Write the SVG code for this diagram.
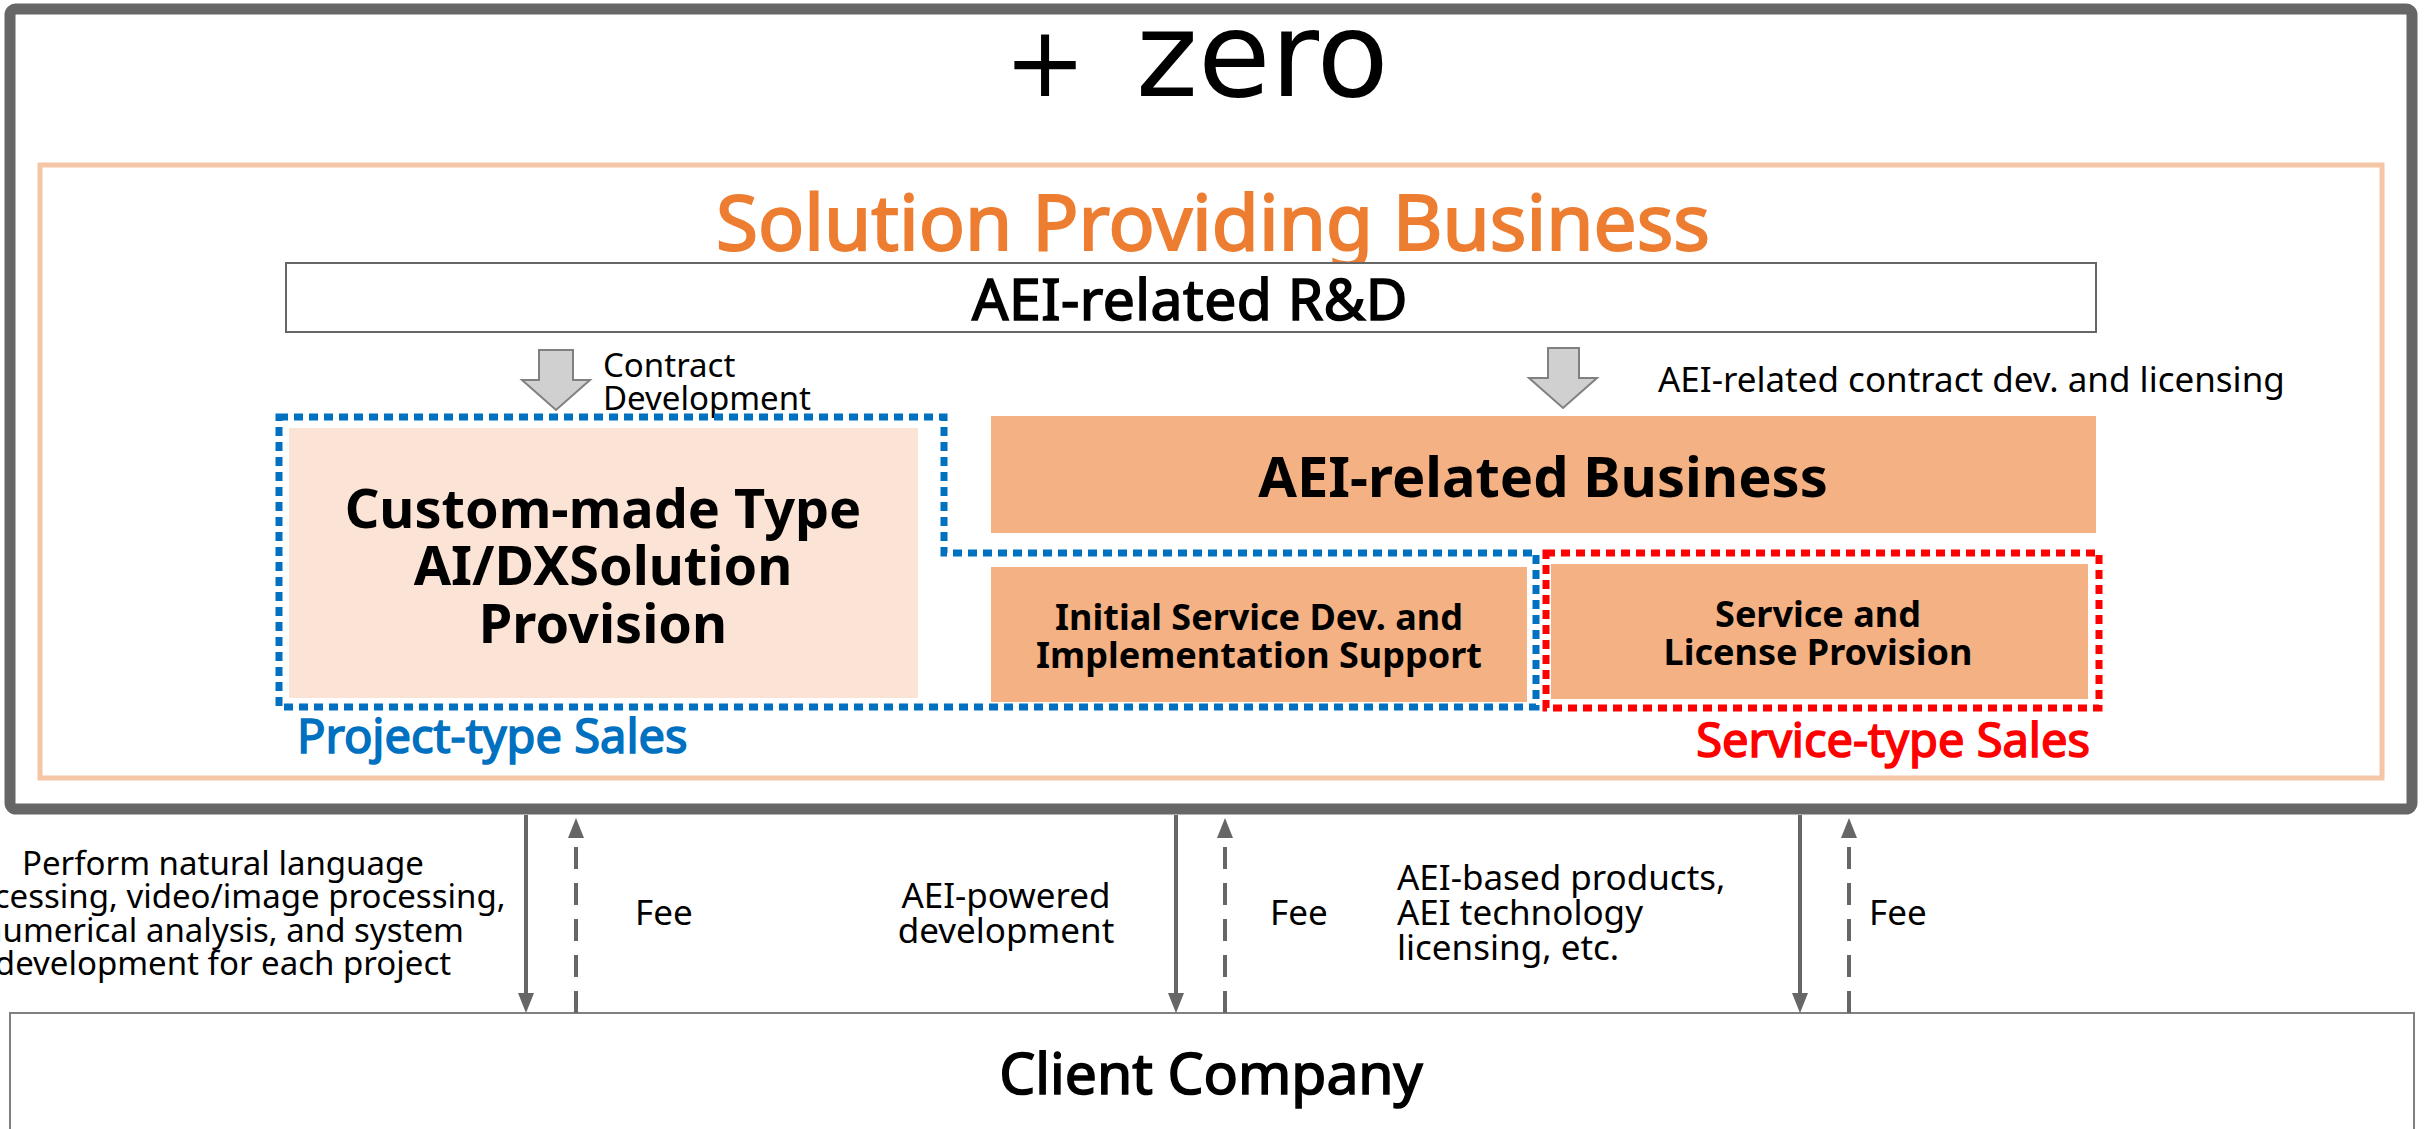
<svg xmlns="http://www.w3.org/2000/svg" width="2427" height="1129" viewBox="0 0 2427 1129">
<style>
text{font-family:"Noto Sans","Noto Sans CJK JP",sans-serif;fill:#000}
.b{font-weight:bold}
.md{stroke:#000;stroke-width:1.6px}
.sm{font-size:35px}
.mid{text-anchor:middle}
.solid{stroke:#666;stroke-width:4;fill:none}
.dash{stroke:#666;stroke-width:4;fill:none;stroke-dasharray:22 14}
.blockarrow{fill:#D0D0D0;stroke:#808080;stroke-width:2}
.dot{fill:none;stroke-width:7;stroke-dasharray:9 6}
</style>
<defs>
<marker id="ah" viewBox="0 0 20 16" refX="12" refY="8" markerWidth="20" markerHeight="16" markerUnits="userSpaceOnUse" orient="auto">
<path d="M0,0 L20,8 L0,16 Z" fill="#666"/>
</marker>
</defs>
<rect width="2427" height="1129" fill="#fff"/>

<g id="client-company">
<rect x="10" y="1013" width="2404" height="140" fill="#fff" stroke="#808080" stroke-width="2"/>
<text x="1211" y="1094" class="mid md" font-size="57">Client Company</text>
</g>

<g id="zero">
<rect x="10" y="9" width="2402" height="800" rx="6" fill="#fff" stroke="#666" stroke-width="11"/>
<text y="96" style="font-family:'DejaVu Sans',sans-serif"><tspan x="1004" font-size="98">+</tspan><tspan x="1136" font-size="118">zero</tspan></text>
</g>

<g id="solution-providing-business">
<rect x="40" y="165" width="2342" height="613" fill="none" stroke="#F5C6A6" stroke-width="5"/>
<text x="1213" y="250" class="mid md" font-size="76.5" style="fill:#ED7D31;stroke:#ED7D31;stroke-width:2px">Solution Providing Business</text>
</g>

<g id="aei-rnd">
<rect x="286" y="263" width="1810" height="69" fill="#fff" stroke="#666" stroke-width="2"/>
<text x="1190" y="320" class="mid md" font-size="57" letter-spacing="0.5">AEI-related R&amp;D</text>
</g>

<g id="arrow-contract">
<polygon class="blockarrow" points="539,350 573,350 573,380 590,380 556,410 522,380 539,380"/>
<text x="603" y="377" font-size="33">Contract</text>
<text x="603" y="410" font-size="33">Development</text>
</g>

<g id="arrow-aei-contract">
<polygon class="blockarrow" points="1548,348 1579,348 1579,378 1597,378 1563,408 1529,378 1548,378"/>
<text x="1658" y="392" class="sm">AEI-related contract dev. and licensing</text>
</g>

<g id="custom-made">
<rect x="289" y="428" width="629" height="270" fill="#FBE3D6"/>
<text x="603" y="528" class="mid b" font-size="54">Custom-made Type</text>
<text x="603" y="585" class="mid b" font-size="54">AI/DXSolution</text>
<text x="603" y="643" class="mid b" font-size="54">Provision</text>
</g>

<g id="aei-business">
<rect x="991" y="416" width="1105" height="117" fill="#F4B183"/>
<text x="1543" y="497" class="mid b" font-size="56">AEI-related Business</text>
</g>

<g id="initial-service">
<rect x="991" y="567" width="536" height="135" fill="#F4B183"/>
<text x="1259" y="630" class="mid b" font-size="36">Initial Service Dev. and</text>
<text x="1259" y="668" class="mid b" font-size="36">Implementation Support</text>
</g>

<g id="service-license">
<rect x="1551" y="564" width="537" height="135" fill="#F4B183"/>
<text x="1818" y="627" class="mid b" font-size="36">Service and</text>
<text x="1818" y="665" class="mid b" font-size="36">License Provision</text>
</g>

<g id="project-type-sales">
<path class="dot" stroke="#0070C0" d="M279,417 H944 V553 H1536 V707 H279 Z"/>
<text x="297" y="753" class="md" font-size="47" style="fill:#0070C0;stroke:#0070C0">Project-type Sales</text>
</g>

<g id="service-type-sales">
<rect class="dot" stroke="#FF0000" x="1546" y="553" width="553" height="155"/>
<text x="2090" y="757" class="md" font-size="47" text-anchor="end" style="fill:#FF0000;stroke:#FF0000">Service-type Sales</text>
</g>

<g id="connectors">
<line class="solid" x1="526" y1="815" x2="526" y2="1005" marker-end="url(#ah)"/>
<line class="dash" x1="576" y1="1013" x2="576" y2="826" marker-end="url(#ah)"/>
<line class="solid" x1="1176" y1="815" x2="1176" y2="1005" marker-end="url(#ah)"/>
<line class="dash" x1="1225" y1="1013" x2="1225" y2="826" marker-end="url(#ah)"/>
<line class="solid" x1="1800" y1="815" x2="1800" y2="1005" marker-end="url(#ah)"/>
<line class="dash" x1="1849" y1="1013" x2="1849" y2="826" marker-end="url(#ah)"/>
</g>

<g id="labels">
<text class="mid" font-size="33" x="223" y="875">Perform natural language</text>
<text class="mid" font-size="33" x="223" y="908">processing, video/image processing,</text>
<text class="mid" font-size="33" x="223" y="942">numerical analysis, and system</text>
<text class="mid" font-size="33" x="223" y="975">development for each project</text>
<text class="sm" x="635" y="925">Fee</text>
<text class="sm mid" x="1006" y="908">AEI-powered</text>
<text class="sm mid" x="1006" y="943">development</text>
<text class="sm" x="1270" y="925">Fee</text>
<text class="sm" x="1397" y="890">AEI-based products,</text>
<text class="sm" x="1397" y="925">AEI technology</text>
<text class="sm" x="1397" y="960">licensing, etc.</text>
<text class="sm" x="1869" y="925">Fee</text>
</g>
</svg>
